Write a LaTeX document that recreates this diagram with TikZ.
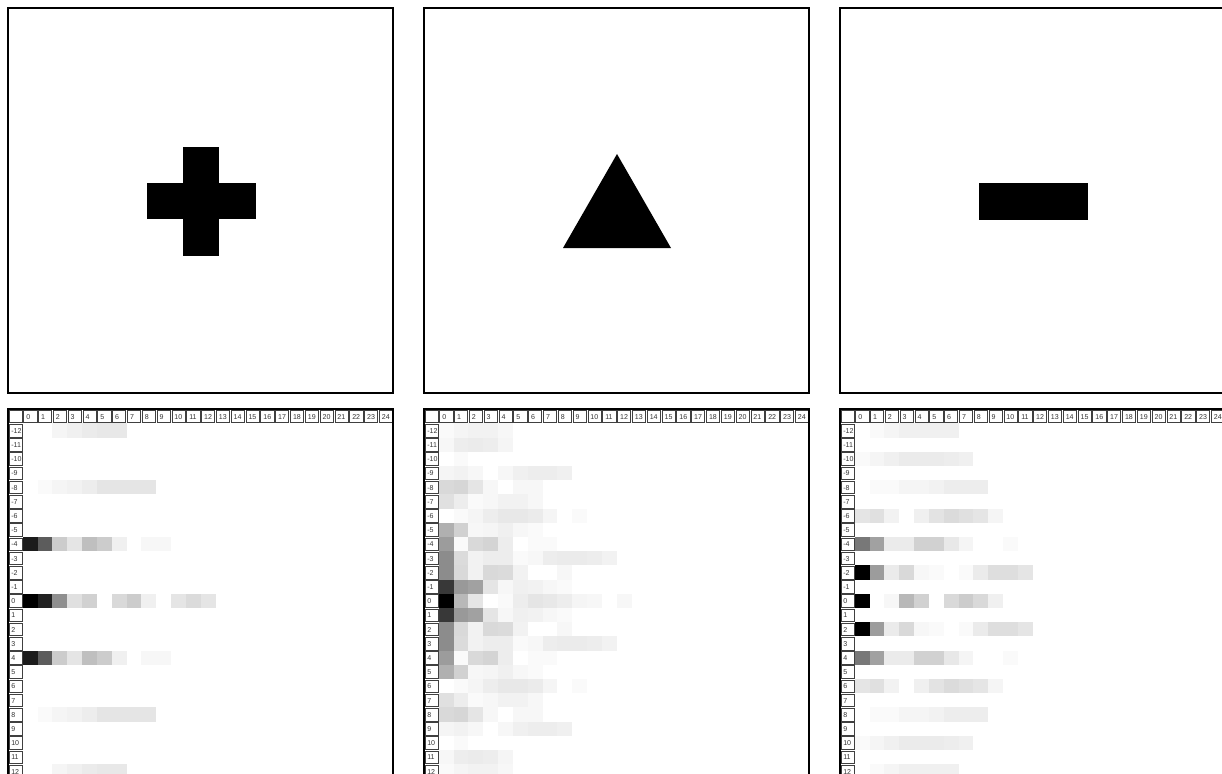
\documentclass[tikz,border=0pt]{standalone}
\usepackage{fontspec}
\setsansfont{Liberation Sans}
\tikzset{
  frame/.style={draw=black,line width=1.5pt},
  hcell/.style={draw=black!75,line width=0.45pt},
  lab/.style={font=\fontsize{5.3}{6}\sffamily\selectfont,text=black!80,inner sep=0pt,anchor=base west},
  glyph/.style={fill=black}
}
\newcommand\shrow[3]{\foreach \c/\g in {#3}{\fill[black!\g] ({#1+14.8+\c*14.82},{423.4+(#2+12)*14.2}) rectangle ++(14.86,14.24);}}
\newcommand\shsym[3]{\shrow{#1}{#2}{#3}\shrow{#1}{-#2}{#3}}
\begin{document}
\begin{tikzpicture}[x=0.75pt,y=-0.75pt]
\useasboundingbox (0,0) rectangle (1222,774);
\clip (0,0) rectangle (1222,774);
\fill[white] (0,0) rectangle (1222,774);
% ---- top shapes
\fill[glyph] (183,147) rectangle (219,256);
\fill[glyph] (147,183) rectangle (256,219);
\fill[glyph] (617,154) -- (671,248) -- (563,248) -- cycle;
\fill[glyph] (979,183) rectangle (1088,220);
% ---- panel 1 shading (plus)
\shsym{8}{12}{2/4,3/6,4/8,5/9,6/9}
\shsym{8}{8}{1/2,2/4,3/5,4/7,5/10,6/10,7/10,8/10}
\shsym{8}{4}{0/89,1/64,2/20,3/10,4/25,5/20,6/6,8/3,9/3}
\shrow{8}{0}{0/100,1/87,2/44,3/12,4/18,6/15,7/20,8/6,10/10,11/14,12/10}
% ---- panel 2 shading (triangle)
\shsym{424}{12}{0/2,1/4,2/5,3/5,4/3}
\shsym{424}{11}{0/3,1/7,2/8,3/7,4/4}
\shsym{424}{10}{1/2}
\shsym{424}{9}{0/4,1/5,2/3,4/3,5/6,6/7,7/7,8/6}
\shsym{424}{8}{0/15,1/16,2/10,3/3,5/3,6/3}
\shsym{424}{7}{0/12,1/7,2/2,3/3,4/5,5/5,6/3}
\shsym{424}{6}{1/2,2/4,3/7,4/9,5/9,6/8,7/4,9/2}
\shsym{424}{5}{0/31,1/18,2/3,3/4,4/6,5/3,6/2}
\shsym{424}{4}{0/39,1/2,2/15,3/17,4/7,6/2,7/2}
\shsym{424}{3}{0/45,1/14,2/5,3/7,4/7,5/2,6/3,7/7,8/8,9/8,10/7,11/5}
\shsym{424}{2}{0/45,1/15,2/5,3/15,4/14,5/5,8/3}
\shsym{424}{1}{0/78,1/40,2/37,3/10,4/3,5/6,6/5,7/3,8/2}
\shrow{424}{0}{0/100,1/28,2/10,4/2,5/7,6/10,7/9,8/7,9/4,10/3,12/3}
% ---- panel 3 shading (minus)
\shsym{840}{12}{1/2,2/4,3/6,4/6,5/6,6/6}
\shsym{840}{10}{0/2,1/4,2/6,3/8,4/8,5/8,6/7,7/6}
\shsym{840}{8}{1/2,2/2,3/4,4/4,5/5,6/7,7/7,8/7}
\shsym{840}{6}{0/10,1/12,2/5,4/6,5/11,6/14,7/12,8/10,9/4}
\shsym{840}{4}{0/53,1/37,2/8,3/8,4/18,5/18,6/9,7/4,10/2}
\shsym{840}{2}{0/100,1/39,2/8,3/15,4/3,5/2,7/2,8/8,9/13,10/13,11/10}
\shrow{840}{0}{0/100,2/3,3/28,4/18,6/15,7/20,8/15,9/6}
% ---- headers and row labels
\foreach \L/\p in {8/a,424/b,840/c}{
  \draw[hcell] ({\L+1.2},410.2) rectangle ({\L+14.0},422.6);
  \foreach \c in {0,...,24}{
    \draw[hcell] ({\L+14.8+\c*14.82+0.8},410.2) rectangle ++(13.2,12.4);
    \node[lab] (h\p\c) at ({\L+14.8+\c*14.82+3.2},419.2) {\c};
  }
  \foreach \i in {0,...,24}{
    \pgfmathtruncatemacro\r{\i-12}
    \draw[hcell] ({\L+1.2},{423.4+\i*14.2+0.8}) rectangle ++(12.8,12.6);
    \node[lab] (r\p\i) at ({\L+3.0},{423.4+\i*14.2+9.9}) {\r};
  }
}
% ---- frames
\draw[frame] (8,8) rectangle (393,393);
\draw[frame] (424,8) rectangle (809,393);
\draw[frame] (840,8) rectangle (1225,393);
\draw[frame] (8,409) rectangle (393,800);
\draw[frame] (424,409) rectangle (809,800);
\draw[frame] (840,409) rectangle (1225,800);
\end{tikzpicture}
\end{document}
